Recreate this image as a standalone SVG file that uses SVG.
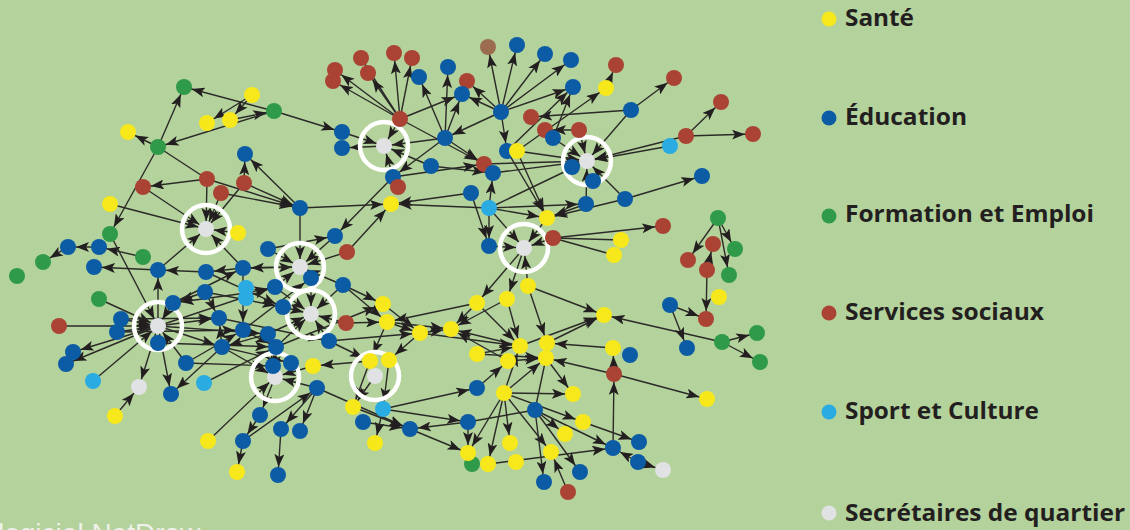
<svg xmlns="http://www.w3.org/2000/svg" width="1130" height="530" viewBox="0 0 1130 530">
<defs>
<marker id="ah" markerUnits="userSpaceOnUse" markerWidth="13" markerHeight="10" viewBox="0 0 13 10" refX="21" refY="5" orient="auto">
<path d="M0,0 L13,5 L0,10 L3,5 z" fill="#231f20"/>
</marker>
</defs>
<style>
.a{stroke:#2b2a28;stroke-width:1.4;fill:none;marker-end:url(#ah)}
.p{stroke:#2b2a28;stroke-width:1.4;fill:none}
.Y{fill:#f7e81b}.B{fill:#0b5ba5}.G{fill:#2f9a48}.R{fill:#ab4334}.L{fill:#2aabe2}.W{fill:#e1e2e4}.N{fill:#9b6d4e}
.ring{fill:none;stroke:#ffffff;stroke-width:4.5}
.lg{font-family:"Open Sans","Liberation Sans",sans-serif;font-weight:bold;font-size:24px;fill:#231f20}
</style>
<rect x="0" y="0" width="1130" height="530" fill="#b4d29c"/>
<g id="connectors">
<line class="a" x1="252" y1="95" x2="207" y2="123"/>
<line class="a" x1="252" y1="95" x2="230" y2="120"/>
<line class="a" x1="274" y1="111" x2="184" y2="87"/>
<line class="a" x1="158" y1="147" x2="184" y2="87"/>
<line class="a" x1="158" y1="147" x2="128" y2="132"/>
<line class="a" x1="230" y1="120" x2="274" y2="111"/>
<line class="a" x1="274" y1="111" x2="158" y2="147"/>
<line class="a" x1="274" y1="111" x2="342" y2="132"/>
<line class="a" x1="158" y1="147" x2="110" y2="234"/>
<line class="p" x1="158" y1="147" x2="207" y2="179"/>
<line class="a" x1="207" y1="179" x2="143" y2="187"/>
<line class="a" x1="207" y1="179" x2="206" y2="229"/>
<line class="a" x1="244" y1="183" x2="206" y2="229"/>
<line class="a" x1="221" y1="193" x2="206" y2="229"/>
<line class="a" x1="143" y1="187" x2="206" y2="229"/>
<line class="a" x1="110" y1="204" x2="206" y2="229"/>
<line class="a" x1="238" y1="233" x2="206" y2="229"/>
<line class="a" x1="243" y1="268" x2="206" y2="229"/>
<line class="a" x1="158" y1="270" x2="206" y2="229"/>
<line class="a" x1="207" y1="179" x2="300" y2="208"/>
<line class="a" x1="244" y1="183" x2="300" y2="208"/>
<line class="a" x1="221" y1="193" x2="300" y2="208"/>
<line class="a" x1="300" y1="208" x2="245" y2="154"/>
<line class="a" x1="244" y1="183" x2="245" y2="154"/>
<line class="a" x1="300" y1="208" x2="391" y2="204"/>
<line class="a" x1="300" y1="208" x2="300" y2="267"/>
<line class="a" x1="268" y1="249" x2="335" y2="236"/>
<line class="a" x1="393" y1="177" x2="335" y2="236"/>
<line class="a" x1="347" y1="252" x2="391" y2="204"/>
<line class="a" x1="335" y1="236" x2="300" y2="267"/>
<line class="a" x1="268" y1="249" x2="300" y2="267"/>
<line class="a" x1="243" y1="268" x2="300" y2="267"/>
<line class="a" x1="275" y1="287" x2="300" y2="267"/>
<line class="a" x1="343" y1="285" x2="300" y2="267"/>
<line class="a" x1="347" y1="252" x2="300" y2="267"/>
<line class="a" x1="143" y1="257" x2="99" y2="247"/>
<line class="a" x1="99" y1="247" x2="68" y2="247"/>
<line class="a" x1="68" y1="247" x2="43" y2="262"/>
<line class="a" x1="158" y1="270" x2="94" y2="267"/>
<line class="a" x1="158" y1="326" x2="158" y2="270"/>
<line class="a" x1="206" y1="272" x2="158" y2="270"/>
<line class="a" x1="243" y1="268" x2="206" y2="272"/>
<line class="a" x1="110" y1="234" x2="158" y2="326"/>
<line class="a" x1="99" y1="299" x2="158" y2="326"/>
<line class="a" x1="59" y1="326" x2="158" y2="326"/>
<line class="a" x1="121" y1="319" x2="158" y2="326"/>
<line class="a" x1="117" y1="332" x2="158" y2="326"/>
<line class="a" x1="173" y1="303" x2="158" y2="326"/>
<line class="a" x1="205" y1="292" x2="173" y2="303"/>
<line class="a" x1="246" y1="293" x2="173" y2="303"/>
<line class="a" x1="158" y1="326" x2="66" y2="364"/>
<line class="a" x1="158" y1="326" x2="73" y2="352"/>
<line class="a" x1="93" y1="381" x2="158" y2="326"/>
<line class="a" x1="158" y1="326" x2="139" y2="387"/>
<line class="a" x1="115" y1="416" x2="139" y2="387"/>
<line class="a" x1="158" y1="326" x2="171" y2="394"/>
<line class="a" x1="222" y1="347" x2="171" y2="394"/>
<line class="a" x1="186" y1="363" x2="158" y2="326"/>
<line class="a" x1="158" y1="326" x2="219" y2="318"/>
<line class="a" x1="158" y1="326" x2="222" y2="347"/>
<line class="a" x1="158" y1="326" x2="268" y2="334"/>
<line class="a" x1="158" y1="343" x2="276" y2="347"/>
<line class="a" x1="186" y1="363" x2="243" y2="330"/>
<line class="a" x1="204" y1="383" x2="276" y2="347"/>
<line class="a" x1="222" y1="347" x2="219" y2="318"/>
<line class="a" x1="268" y1="334" x2="222" y2="347"/>
<line class="a" x1="300" y1="267" x2="243" y2="268"/>
<line class="a" x1="246" y1="293" x2="275" y2="287"/>
<line class="a" x1="158" y1="326" x2="275" y2="287"/>
<line class="a" x1="205" y1="292" x2="283" y2="307"/>
<line class="a" x1="219" y1="318" x2="329" y2="341"/>
<line class="a" x1="243" y1="330" x2="276" y2="347"/>
<line class="a" x1="222" y1="347" x2="291" y2="363"/>
<line class="a" x1="186" y1="363" x2="273" y2="366"/>
<line class="a" x1="205" y1="292" x2="219" y2="318"/>
<line class="a" x1="243" y1="268" x2="243" y2="330"/>
<line class="a" x1="206" y1="272" x2="283" y2="307"/>
<line class="a" x1="173" y1="303" x2="243" y2="268"/>
<line class="a" x1="121" y1="319" x2="219" y2="318"/>
<line class="a" x1="117" y1="332" x2="243" y2="330"/>
<line class="a" x1="222" y1="347" x2="275" y2="377"/>
<line class="a" x1="243" y1="330" x2="311" y2="278"/>
<line class="a" x1="311" y1="278" x2="311" y2="314"/>
<line class="a" x1="343" y1="285" x2="311" y2="314"/>
<line class="a" x1="275" y1="287" x2="311" y2="314"/>
<line class="a" x1="283" y1="307" x2="311" y2="314"/>
<line class="a" x1="346" y1="323" x2="311" y2="314"/>
<line class="a" x1="329" y1="341" x2="311" y2="314"/>
<line class="a" x1="268" y1="334" x2="311" y2="314"/>
<line class="a" x1="276" y1="347" x2="311" y2="314"/>
<line class="a" x1="313" y1="366" x2="275" y2="377"/>
<line class="a" x1="208" y1="441" x2="275" y2="377"/>
<line class="a" x1="317" y1="388" x2="275" y2="377"/>
<line class="a" x1="276" y1="347" x2="275" y2="377"/>
<line class="a" x1="268" y1="334" x2="275" y2="377"/>
<line class="a" x1="275" y1="377" x2="260" y2="415"/>
<line class="a" x1="260" y1="415" x2="243" y2="441"/>
<line class="a" x1="243" y1="441" x2="237" y2="472"/>
<line class="a" x1="281" y1="429" x2="278" y2="475"/>
<line class="a" x1="317" y1="388" x2="281" y2="429"/>
<line class="a" x1="317" y1="388" x2="300" y2="431"/>
<line class="a" x1="243" y1="441" x2="317" y2="388"/>
<line class="a" x1="346" y1="323" x2="387" y2="322"/>
<line class="a" x1="343" y1="285" x2="383" y2="304"/>
<line class="a" x1="343" y1="285" x2="387" y2="322"/>
<line class="a" x1="276" y1="347" x2="383" y2="304"/>
<line class="a" x1="329" y1="341" x2="420" y2="333"/>
<line class="a" x1="329" y1="341" x2="370" y2="361"/>
<line class="a" x1="383" y1="304" x2="420" y2="333"/>
<line class="a" x1="387" y1="322" x2="420" y2="333"/>
<line class="a" x1="387" y1="322" x2="370" y2="361"/>
<line class="a" x1="420" y1="333" x2="389" y2="360"/>
<line class="a" x1="370" y1="361" x2="313" y2="366"/>
<line class="a" x1="370" y1="361" x2="353" y2="407"/>
<line class="a" x1="389" y1="360" x2="383" y2="409"/>
<line class="a" x1="375" y1="376" x2="353" y2="407"/>
<line class="a" x1="353" y1="407" x2="410" y2="429"/>
<line class="a" x1="383" y1="409" x2="375" y2="443"/>
<line class="a" x1="363" y1="422" x2="410" y2="429"/>
<line class="a" x1="317" y1="388" x2="410" y2="429"/>
<line class="a" x1="468" y1="422" x2="410" y2="429"/>
<line class="a" x1="410" y1="429" x2="468" y2="453"/>
<line class="a" x1="383" y1="409" x2="477" y2="388"/>
<line class="a" x1="383" y1="409" x2="468" y2="422"/>
<line class="a" x1="400" y1="119" x2="335" y2="70"/>
<line class="a" x1="400" y1="119" x2="333" y2="81"/>
<line class="a" x1="400" y1="119" x2="361" y2="58"/>
<line class="a" x1="400" y1="119" x2="394" y2="53"/>
<line class="a" x1="400" y1="119" x2="412" y2="58"/>
<line class="a" x1="400" y1="119" x2="368" y2="73"/>
<line class="a" x1="400" y1="119" x2="462" y2="94"/>
<line class="a" x1="400" y1="119" x2="384" y2="146"/>
<line class="a" x1="400" y1="119" x2="484" y2="164"/>
<line class="a" x1="342" y1="132" x2="384" y2="146"/>
<line class="a" x1="384" y1="146" x2="342" y2="148"/>
<line class="a" x1="445" y1="138" x2="419" y2="77"/>
<line class="a" x1="445" y1="138" x2="448" y2="67"/>
<line class="a" x1="445" y1="138" x2="462" y2="94"/>
<line class="a" x1="445" y1="138" x2="384" y2="146"/>
<line class="a" x1="445" y1="138" x2="484" y2="164"/>
<line class="a" x1="445" y1="138" x2="393" y2="177"/>
<line class="a" x1="431" y1="166" x2="384" y2="146"/>
<line class="a" x1="431" y1="166" x2="493" y2="173"/>
<line class="a" x1="393" y1="177" x2="384" y2="146"/>
<line class="a" x1="393" y1="177" x2="484" y2="164"/>
<line class="a" x1="501" y1="112" x2="488" y2="47"/>
<line class="a" x1="501" y1="112" x2="517" y2="45"/>
<line class="a" x1="501" y1="112" x2="545" y2="54"/>
<line class="a" x1="501" y1="112" x2="571" y2="60"/>
<line class="a" x1="501" y1="112" x2="573" y2="87"/>
<line class="a" x1="501" y1="112" x2="467" y2="81"/>
<line class="a" x1="501" y1="112" x2="462" y2="94"/>
<line class="a" x1="501" y1="112" x2="445" y2="138"/>
<line class="a" x1="501" y1="112" x2="507" y2="151"/>
<line class="a" x1="631" y1="110" x2="531" y2="117"/>
<line class="a" x1="631" y1="110" x2="674" y2="78"/>
<line class="a" x1="631" y1="110" x2="587" y2="161"/>
<line class="a" x1="517" y1="151" x2="606" y2="88"/>
<line class="a" x1="606" y1="88" x2="616" y2="65"/>
<line class="a" x1="507" y1="151" x2="573" y2="87"/>
<line class="a" x1="553" y1="138" x2="573" y2="87"/>
<line class="a" x1="579" y1="130" x2="545" y2="130"/>
<line class="a" x1="579" y1="130" x2="587" y2="161"/>
<line class="a" x1="553" y1="138" x2="587" y2="161"/>
<line class="a" x1="517" y1="151" x2="587" y2="161"/>
<line class="a" x1="493" y1="173" x2="587" y2="161"/>
<line class="a" x1="484" y1="164" x2="587" y2="161"/>
<line class="a" x1="489" y1="208" x2="587" y2="161"/>
<line class="a" x1="489" y1="208" x2="586" y2="204"/>
<line class="a" x1="586" y1="204" x2="587" y2="161"/>
<line class="a" x1="625" y1="199" x2="587" y2="161"/>
<line class="a" x1="625" y1="199" x2="702" y2="176"/>
<line class="a" x1="586" y1="204" x2="547" y2="218"/>
<line class="a" x1="625" y1="199" x2="547" y2="218"/>
<line class="a" x1="517" y1="151" x2="547" y2="218"/>
<line class="a" x1="507" y1="151" x2="547" y2="218"/>
<line class="a" x1="489" y1="208" x2="547" y2="218"/>
<line class="a" x1="686" y1="136" x2="721" y2="102"/>
<line class="a" x1="686" y1="136" x2="753" y2="134"/>
<line class="a" x1="670" y1="146" x2="587" y2="161"/>
<line class="a" x1="686" y1="136" x2="587" y2="161"/>
<line class="a" x1="553" y1="238" x2="663" y2="226"/>
<line class="p" x1="553" y1="238" x2="621" y2="240"/>
<line class="p" x1="553" y1="238" x2="614" y2="255"/>
<line class="a" x1="553" y1="238" x2="524" y2="248"/>
<line class="a" x1="547" y1="218" x2="524" y2="248"/>
<line class="a" x1="489" y1="208" x2="524" y2="248"/>
<line class="a" x1="489" y1="246" x2="524" y2="248"/>
<line class="a" x1="489" y1="208" x2="489" y2="246"/>
<line class="a" x1="471" y1="193" x2="489" y2="246"/>
<line class="a" x1="489" y1="208" x2="493" y2="173"/>
<line class="a" x1="471" y1="193" x2="391" y2="204"/>
<line class="a" x1="489" y1="208" x2="391" y2="204"/>
<line class="a" x1="524" y1="248" x2="477" y2="303"/>
<line class="a" x1="524" y1="248" x2="507" y2="299"/>
<line class="a" x1="528" y1="286" x2="524" y2="248"/>
<line class="a" x1="528" y1="286" x2="604" y2="315"/>
<line class="a" x1="528" y1="286" x2="547" y2="343"/>
<line class="a" x1="477" y1="303" x2="451" y2="329"/>
<line class="a" x1="507" y1="299" x2="451" y2="329"/>
<line class="a" x1="477" y1="303" x2="520" y2="346"/>
<line class="a" x1="507" y1="299" x2="520" y2="346"/>
<line class="a" x1="477" y1="303" x2="387" y2="322"/>
<line class="a" x1="520" y1="346" x2="604" y2="315"/>
<line class="a" x1="547" y1="343" x2="604" y2="315"/>
<line class="a" x1="520" y1="346" x2="451" y2="329"/>
<line class="a" x1="420" y1="333" x2="451" y2="329"/>
<line class="a" x1="387" y1="322" x2="451" y2="329"/>
<line class="a" x1="420" y1="333" x2="520" y2="346"/>
<line class="a" x1="508" y1="361" x2="451" y2="329"/>
<line class="a" x1="477" y1="354" x2="520" y2="346"/>
<line class="a" x1="477" y1="354" x2="546" y2="358"/>
<line class="a" x1="508" y1="361" x2="546" y2="358"/>
<line class="a" x1="504" y1="393" x2="546" y2="358"/>
<line class="a" x1="504" y1="393" x2="520" y2="346"/>
<line class="a" x1="477" y1="388" x2="508" y2="361"/>
<line class="a" x1="546" y1="358" x2="573" y2="394"/>
<line class="a" x1="613" y1="348" x2="547" y2="343"/>
<line class="a" x1="614" y1="374" x2="613" y2="348"/>
<line class="a" x1="614" y1="374" x2="546" y2="358"/>
<line class="a" x1="614" y1="374" x2="707" y2="399"/>
<line class="a" x1="613" y1="448" x2="614" y2="374"/>
<line class="a" x1="722" y1="342" x2="604" y2="315"/>
<line class="p" x1="546" y1="358" x2="535" y2="410"/>
<line class="p" x1="468" y1="422" x2="535" y2="410"/>
<line class="a" x1="504" y1="393" x2="468" y2="453"/>
<line class="a" x1="504" y1="393" x2="488" y2="464"/>
<line class="a" x1="504" y1="393" x2="510" y2="443"/>
<line class="a" x1="504" y1="393" x2="551" y2="452"/>
<line class="a" x1="504" y1="393" x2="583" y2="422"/>
<line class="a" x1="504" y1="393" x2="573" y2="394"/>
<line class="a" x1="535" y1="410" x2="544" y2="482"/>
<line class="a" x1="535" y1="410" x2="580" y2="472"/>
<line class="a" x1="535" y1="410" x2="565" y2="434"/>
<line class="a" x1="535" y1="410" x2="613" y2="448"/>
<line class="a" x1="583" y1="422" x2="639" y2="442"/>
<line class="a" x1="638" y1="462" x2="613" y2="448"/>
<line class="a" x1="638" y1="462" x2="663" y2="470"/>
<line class="a" x1="488" y1="464" x2="613" y2="448"/>
<line class="a" x1="568" y1="492" x2="551" y2="452"/>
<line class="a" x1="468" y1="422" x2="468" y2="453"/>
<line class="a" x1="718" y1="218" x2="688" y2="260"/>
<line class="a" x1="718" y1="218" x2="735" y2="249"/>
<line class="a" x1="718" y1="218" x2="729" y2="275"/>
<line class="a" x1="707" y1="270" x2="713" y2="244"/>
<line class="a" x1="707" y1="270" x2="706" y2="319"/>
<line class="a" x1="670" y1="305" x2="706" y2="319"/>
<line class="a" x1="670" y1="305" x2="687" y2="348"/>
<line class="a" x1="722" y1="342" x2="757" y2="333"/>
<line class="a" x1="722" y1="342" x2="760" y2="362"/>
</g>
<g id="s1"><circle class="ring" cx="384" cy="146" r="24"/><circle class="W" cx="384" cy="146" r="8"/></g>
<g id="s2"><circle class="ring" cx="587" cy="161" r="24"/><circle class="W" cx="587" cy="161" r="8"/></g>
<g id="s3"><circle class="ring" cx="206" cy="229" r="24"/><circle class="W" cx="206" cy="229" r="8"/></g>
<g id="s4"><circle class="ring" cx="524" cy="248" r="24"/><circle class="W" cx="524" cy="248" r="8"/></g>
<g id="s5"><circle class="ring" cx="300" cy="267" r="24"/><circle class="W" cx="300" cy="267" r="8"/></g>
<g id="s6"><circle class="ring" cx="311" cy="314" r="24"/><circle class="W" cx="311" cy="314" r="8"/></g>
<g id="s7"><circle class="ring" cx="158" cy="326" r="24"/><circle class="W" cx="158" cy="326" r="8"/></g>
<g id="s8"><circle class="ring" cx="275" cy="377" r="24"/><circle class="W" cx="275" cy="377" r="8"/></g>
<g id="s9"><circle class="ring" cx="375" cy="376" r="24"/><circle class="W" cx="375" cy="376" r="8"/></g>
<g id="w1"><circle class="W" cx="139" cy="387" r="8"/></g>
<g id="w2"><circle class="W" cx="663" cy="470" r="8"/></g>
<g id="g1"><circle class="G" cx="184" cy="87" r="8"/></g>
<g id="y1"><circle class="Y" cx="252" cy="95" r="8"/></g>
<g id="y2"><circle class="Y" cx="207" cy="123" r="8"/></g>
<g id="y3"><circle class="Y" cx="230" cy="120" r="8"/></g>
<g id="g2"><circle class="G" cx="274" cy="111" r="8"/></g>
<g id="y4"><circle class="Y" cx="128" cy="132" r="8"/></g>
<g id="g3"><circle class="G" cx="158" cy="147" r="8"/></g>
<g id="b1"><circle class="B" cx="342" cy="132" r="8"/></g>
<g id="b2"><circle class="B" cx="342" cy="148" r="8"/></g>
<g id="b3"><circle class="B" cx="245" cy="154" r="8"/></g>
<g id="r1"><circle class="R" cx="207" cy="179" r="8"/></g>
<g id="r2"><circle class="R" cx="244" cy="183" r="8"/></g>
<g id="r3"><circle class="R" cx="221" cy="193" r="8"/></g>
<g id="r4"><circle class="R" cx="143" cy="187" r="8"/></g>
<g id="b4"><circle class="B" cx="300" cy="208" r="8"/></g>
<g id="y5"><circle class="Y" cx="110" cy="204" r="8"/></g>
<g id="y6"><circle class="Y" cx="238" cy="233" r="8"/></g>
<g id="g4"><circle class="G" cx="110" cy="234" r="8"/></g>
<g id="b5"><circle class="B" cx="68" cy="247" r="8"/></g>
<g id="b6"><circle class="B" cx="99" cy="247" r="8"/></g>
<g id="g5"><circle class="G" cx="43" cy="262" r="8"/></g>
<g id="g6"><circle class="G" cx="17" cy="276" r="8"/></g>
<g id="b7"><circle class="B" cx="268" cy="249" r="8"/></g>
<g id="b8"><circle class="B" cx="335" cy="236" r="8"/></g>
<g id="r5"><circle class="R" cx="347" cy="252" r="8"/></g>
<g id="g7"><circle class="G" cx="143" cy="257" r="8"/></g>
<g id="b9"><circle class="B" cx="94" cy="267" r="8"/></g>
<g id="b10"><circle class="B" cx="158" cy="270" r="8"/></g>
<g id="b11"><circle class="B" cx="206" cy="272" r="8"/></g>
<g id="b12"><circle class="B" cx="243" cy="268" r="8"/></g>
<g id="b13"><circle class="B" cx="311" cy="278" r="8"/></g>
<g id="b14"><circle class="B" cx="205" cy="292" r="8"/></g>
<g id="l1"><circle class="L" cx="246" cy="288" r="8"/><circle class="L" cx="246" cy="298" r="8"/></g>
<g id="b15"><circle class="B" cx="275" cy="287" r="8"/></g>
<g id="b16"><circle class="B" cx="343" cy="285" r="8"/></g>
<g id="g8"><circle class="G" cx="99" cy="299" r="8"/></g>
<g id="b17"><circle class="B" cx="173" cy="303" r="8"/></g>
<g id="b18"><circle class="B" cx="283" cy="307" r="8"/></g>
<g id="r6"><circle class="R" cx="346" cy="323" r="8"/></g>
<g id="y7"><circle class="Y" cx="383" cy="304" r="8"/></g>
<g id="y8"><circle class="Y" cx="387" cy="322" r="8"/></g>
<g id="y9"><circle class="Y" cx="420" cy="333" r="8"/></g>
<g id="r7"><circle class="R" cx="59" cy="326" r="8"/></g>
<g id="b19"><circle class="B" cx="121" cy="319" r="8"/></g>
<g id="b20"><circle class="B" cx="117" cy="332" r="8"/></g>
<g id="b21"><circle class="B" cx="219" cy="318" r="8"/></g>
<g id="b22"><circle class="B" cx="243" cy="330" r="8"/></g>
<g id="b23"><circle class="B" cx="268" cy="334" r="8"/></g>
<g id="b24"><circle class="B" cx="329" cy="341" r="8"/></g>
<g id="b25"><circle class="B" cx="158" cy="343" r="8"/></g>
<g id="b26"><circle class="B" cx="222" cy="347" r="8"/></g>
<g id="b27"><circle class="B" cx="276" cy="347" r="8"/></g>
<g id="b28"><circle class="B" cx="186" cy="363" r="8"/></g>
<g id="b29"><circle class="B" cx="73" cy="352" r="8"/></g>
<g id="b30"><circle class="B" cx="66" cy="364" r="8"/></g>
<g id="l2"><circle class="L" cx="93" cy="381" r="8"/></g>
<g id="b31"><circle class="B" cx="171" cy="394" r="8"/></g>
<g id="l3"><circle class="L" cx="204" cy="383" r="8"/></g>
<g id="y10"><circle class="Y" cx="115" cy="416" r="8"/></g>
<g id="b32"><circle class="B" cx="273" cy="366" r="8"/></g>
<g id="b33"><circle class="B" cx="291" cy="363" r="8"/></g>
<g id="y11"><circle class="Y" cx="313" cy="366" r="8"/></g>
<g id="b34"><circle class="B" cx="317" cy="388" r="8"/></g>
<g id="y12"><circle class="Y" cx="370" cy="361" r="8"/></g>
<g id="y13"><circle class="Y" cx="389" cy="360" r="8"/></g>
<g id="y14"><circle class="Y" cx="353" cy="407" r="8"/></g>
<g id="l4"><circle class="L" cx="383" cy="409" r="8"/></g>
<g id="b35"><circle class="B" cx="363" cy="422" r="8"/></g>
<g id="b36"><circle class="B" cx="410" cy="429" r="8"/></g>
<g id="y15"><circle class="Y" cx="375" cy="443" r="8"/></g>
<g id="b37"><circle class="B" cx="260" cy="415" r="8"/></g>
<g id="b38"><circle class="B" cx="281" cy="429" r="8"/></g>
<g id="b39"><circle class="B" cx="300" cy="431" r="8"/></g>
<g id="b40"><circle class="B" cx="243" cy="441" r="8"/></g>
<g id="y16"><circle class="Y" cx="208" cy="441" r="8"/></g>
<g id="y17"><circle class="Y" cx="237" cy="472" r="8"/></g>
<g id="b41"><circle class="B" cx="278" cy="475" r="8"/></g>
<g id="r8"><circle class="R" cx="335" cy="70" r="8"/></g>
<g id="r9"><circle class="R" cx="333" cy="81" r="8"/></g>
<g id="r10"><circle class="R" cx="361" cy="58" r="8"/></g>
<g id="r11"><circle class="R" cx="394" cy="53" r="8"/></g>
<g id="r12"><circle class="R" cx="412" cy="58" r="8"/></g>
<g id="r13"><circle class="R" cx="368" cy="73" r="8"/></g>
<g id="b42"><circle class="B" cx="419" cy="77" r="8"/></g>
<g id="b43"><circle class="B" cx="448" cy="67" r="8"/></g>
<g id="r14"><circle class="R" cx="467" cy="81" r="8"/></g>
<g id="b44"><circle class="B" cx="462" cy="94" r="8"/></g>
<g id="n1"><circle class="N" cx="488" cy="47" r="8"/></g>
<g id="b45"><circle class="B" cx="517" cy="45" r="8"/></g>
<g id="b46"><circle class="B" cx="545" cy="54" r="8"/></g>
<g id="b47"><circle class="B" cx="571" cy="60" r="8"/></g>
<g id="r15"><circle class="R" cx="616" cy="65" r="8"/></g>
<g id="y18"><circle class="Y" cx="606" cy="88" r="8"/></g>
<g id="b48"><circle class="B" cx="573" cy="87" r="8"/></g>
<g id="r16"><circle class="R" cx="674" cy="78" r="8"/></g>
<g id="r17"><circle class="R" cx="721" cy="102" r="8"/></g>
<g id="b49"><circle class="B" cx="631" cy="110" r="8"/></g>
<g id="r18"><circle class="R" cx="753" cy="134" r="8"/></g>
<g id="r19"><circle class="R" cx="686" cy="136" r="8"/></g>
<g id="l5"><circle class="L" cx="670" cy="146" r="8"/></g>
<g id="b50"><circle class="B" cx="702" cy="176" r="8"/></g>
<g id="b51"><circle class="B" cx="625" cy="199" r="8"/></g>
<g id="b52"><circle class="B" cx="586" cy="204" r="8"/></g>
<g id="r20"><circle class="R" cx="663" cy="226" r="8"/></g>
<g id="y19"><circle class="Y" cx="621" cy="240" r="8"/></g>
<g id="y20"><circle class="Y" cx="614" cy="255" r="8"/></g>
<g id="b53"><circle class="B" cx="593" cy="181" r="8"/></g>
<g id="b54"><circle class="B" cx="572" cy="167" r="8"/></g>
<g id="r21"><circle class="R" cx="400" cy="119" r="8"/></g>
<g id="b55"><circle class="B" cx="445" cy="138" r="8"/></g>
<g id="b56"><circle class="B" cx="431" cy="166" r="8"/></g>
<g id="b57"><circle class="B" cx="393" cy="177" r="8"/></g>
<g id="r22"><circle class="R" cx="398" cy="187" r="8"/></g>
<g id="y21"><circle class="Y" cx="391" cy="204" r="8"/></g>
<g id="b58"><circle class="B" cx="501" cy="112" r="8"/></g>
<g id="r23"><circle class="R" cx="531" cy="117" r="8"/></g>
<g id="r24"><circle class="R" cx="545" cy="130" r="8"/></g>
<g id="b59"><circle class="B" cx="553" cy="138" r="8"/></g>
<g id="r25"><circle class="R" cx="579" cy="130" r="8"/></g>
<g id="b60"><circle class="B" cx="507" cy="151" r="8"/></g>
<g id="y22"><circle class="Y" cx="517" cy="151" r="8"/></g>
<g id="r26"><circle class="R" cx="484" cy="164" r="8"/></g>
<g id="b61"><circle class="B" cx="493" cy="173" r="8"/></g>
<g id="b62"><circle class="B" cx="471" cy="193" r="8"/></g>
<g id="l6"><circle class="L" cx="489" cy="208" r="8"/></g>
<g id="b63"><circle class="B" cx="489" cy="246" r="8"/></g>
<g id="y23"><circle class="Y" cx="547" cy="218" r="8"/></g>
<g id="r27"><circle class="R" cx="553" cy="238" r="8"/></g>
<g id="g9"><circle class="G" cx="718" cy="218" r="8"/></g>
<g id="r28"><circle class="R" cx="713" cy="244" r="8"/></g>
<g id="g10"><circle class="G" cx="735" cy="249" r="8"/></g>
<g id="r29"><circle class="R" cx="688" cy="260" r="8"/></g>
<g id="r30"><circle class="R" cx="707" cy="270" r="8"/></g>
<g id="g11"><circle class="G" cx="729" cy="275" r="8"/></g>
<g id="y24"><circle class="Y" cx="719" cy="297" r="8"/></g>
<g id="b64"><circle class="B" cx="670" cy="305" r="8"/></g>
<g id="r31"><circle class="R" cx="706" cy="319" r="8"/></g>
<g id="b65"><circle class="B" cx="687" cy="348" r="8"/></g>
<g id="g12"><circle class="G" cx="722" cy="342" r="8"/></g>
<g id="g13"><circle class="G" cx="757" cy="333" r="8"/></g>
<g id="g14"><circle class="G" cx="760" cy="362" r="8"/></g>
<g id="y25"><circle class="Y" cx="528" cy="286" r="8"/></g>
<g id="y26"><circle class="Y" cx="477" cy="303" r="8"/></g>
<g id="y27"><circle class="Y" cx="507" cy="299" r="8"/></g>
<g id="y28"><circle class="Y" cx="604" cy="315" r="8"/></g>
<g id="y30"><circle class="Y" cx="451" cy="329" r="8"/></g>
<g id="y31"><circle class="Y" cx="520" cy="346" r="8"/></g>
<g id="y32"><circle class="Y" cx="547" cy="343" r="8"/></g>
<g id="y33"><circle class="Y" cx="477" cy="354" r="8"/></g>
<g id="y34"><circle class="Y" cx="508" cy="361" r="8"/></g>
<g id="y35"><circle class="Y" cx="546" cy="358" r="8"/></g>
<g id="y36"><circle class="Y" cx="613" cy="348" r="8"/></g>
<g id="b66"><circle class="B" cx="630" cy="355" r="8"/></g>
<g id="r32"><circle class="R" cx="614" cy="374" r="8"/></g>
<g id="b67"><circle class="B" cx="477" cy="388" r="8"/></g>
<g id="y37"><circle class="Y" cx="504" cy="393" r="8"/></g>
<g id="y38"><circle class="Y" cx="573" cy="394" r="8"/></g>
<g id="b68"><circle class="B" cx="535" cy="410" r="8"/></g>
<g id="b69"><circle class="B" cx="468" cy="422" r="8"/></g>
<g id="y39"><circle class="Y" cx="583" cy="422" r="8"/></g>
<g id="y40"><circle class="Y" cx="565" cy="434" r="8"/></g>
<g id="y41"><circle class="Y" cx="510" cy="443" r="8"/></g>
<g id="y42"><circle class="Y" cx="551" cy="452" r="8"/></g>
<g id="g15"><circle class="G" cx="472" cy="464" r="8"/></g>
<g id="y43"><circle class="Y" cx="468" cy="453" r="8"/></g>
<g id="y44"><circle class="Y" cx="488" cy="464" r="8"/></g>
<g id="y45"><circle class="Y" cx="516" cy="462" r="8"/></g>
<g id="b70"><circle class="B" cx="613" cy="448" r="8"/></g>
<g id="b71"><circle class="B" cx="639" cy="442" r="8"/></g>
<g id="b72"><circle class="B" cx="638" cy="462" r="8"/></g>
<g id="b73"><circle class="B" cx="544" cy="482" r="8"/></g>
<g id="b74"><circle class="B" cx="580" cy="472" r="8"/></g>
<g id="r33"><circle class="R" cx="568" cy="492" r="8"/></g>
<g id="y46"><circle class="Y" cx="707" cy="399" r="8"/></g>
<g id="legend">
<circle class="Y" cx="829" cy="19" r="7.5"/>
<text class="lg" x="845" y="26" textLength="69" lengthAdjust="spacingAndGlyphs">Santé</text>
<circle class="B" cx="829" cy="118" r="7.5"/>
<text class="lg" x="845" y="125" textLength="122" lengthAdjust="spacingAndGlyphs">Éducation</text>
<circle class="G" cx="829" cy="216" r="7.5"/>
<text class="lg" x="845" y="222" textLength="249" lengthAdjust="spacingAndGlyphs">Formation et Emploi</text>
<circle class="R" cx="829" cy="313" r="7.5"/>
<text class="lg" x="845" y="320" textLength="199" lengthAdjust="spacingAndGlyphs">Services sociaux</text>
<circle class="L" cx="829" cy="412" r="7.5"/>
<text class="lg" x="845" y="419" textLength="194" lengthAdjust="spacingAndGlyphs">Sport et Culture</text>
<circle class="W" cx="829" cy="513" r="7.5"/>
<text class="lg" x="845" y="521" textLength="280" lengthAdjust="spacingAndGlyphs">Secrétaires de quartier</text>
</g>
<text x="-2" y="543" font-family="Liberation Sans, Arial, sans-serif" font-size="28" fill="#eef2ea">logiciel NetDraw</text>
</svg>
